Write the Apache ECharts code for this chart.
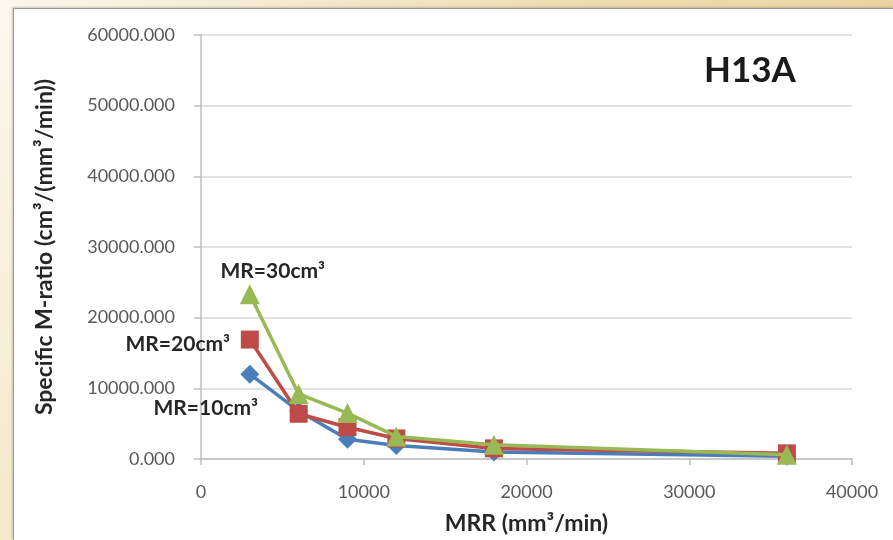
<!DOCTYPE html>
<html>
<head>
<meta charset="utf-8">
<script src="https://cdn.jsdelivr.net/npm/echarts@6/dist/echarts.min.js"></script>
<style>
  html, body { margin: 0; padding: 0; width: 893px; height: 540px; overflow: hidden; }
  body { background: linear-gradient(120deg, #fcf8ee 0%, #efdeb4 45%, #e5cb90 100%); }
  #frame {
    position: absolute; left: 13px; top: 8px; right: 0; bottom: 0;
    background: #ffffff;
    border-left: 1px solid #9a9a9a; border-top: 1px solid #9a9a9a;
    box-shadow: -1px -1px 2px rgba(120,110,90,0.35);
  }
  #chart { position: absolute; left: 0; top: 0; width: 893px; height: 540px; }
</style>
</head>
<body>
<div id="frame"></div>
<div id="chart"></div>
<script>
// MRR values (mm³/min) shared by every series
const mrr = [3000, 6000, 9000, 12000, 18000, 36000];

// Specific M-ratio for each removed material volume
const mr10 = [12000, 6800, 2800, 1900, 1000, 400];
const mr20 = [16900, 6400, 4500, 2900, 1500, 800];
const mr30 = [23300, 9200, 6500, 3200, 2000, 600];

const seriesNames = ['MR=10cm³', 'MR=20cm³', 'MR=30cm³'];
const yTicks = [0, 10000, 20000, 30000, 40000, 50000, 60000];
const xTicks = [0, 10000, 20000, 30000, 40000];

const font = 'Lato, "Open Sans", sans-serif';

function pairs(values) {
  return mrr.map((x, i) => [x, values[i]]);
}

// Name label attached to the first point of a series
function firstPointLabel(values, name, offset) {
  const data = pairs(values).map(p => ({ value: p }));
  data[0].label = {
    show: true, formatter: name, offset: offset, position: 'inside',
    color: '#262626', fontWeight: 'bold', fontSize: 21, fontFamily: font
  };
  return data;
}

const chart = echarts.init(document.getElementById('chart'), null, { renderer: 'canvas' });

chart.setOption({
  backgroundColor: 'transparent',
  animation: false,
  grid: { left: 201, right: 41, top: 35, bottom: 80, containLabel: false },
  xAxis: {
    type: 'value', min: xTicks[0], max: xTicks[xTicks.length - 1], interval: 10000,
    name: 'MRR (mm³/min)', nameLocation: 'middle', nameGap: 53,
    nameTextStyle: { fontFamily: font, fontWeight: 'bold', fontSize: 23, color: '#262626' },
    axisLine: { show: true, lineStyle: { color: '#bfbfbf', width: 1.5 } },
    axisTick: { show: true, length: 6, lineStyle: { color: '#bfbfbf', width: 1.5 } },
    axisLabel: { fontFamily: font, fontSize: 18, color: '#595959', margin: 24, formatter: v => String(v) },
    splitLine: { show: false }
  },
  yAxis: {
    type: 'value', min: yTicks[0], max: yTicks[yTicks.length - 1], interval: 10000,
    name: 'Specific M-ratio (cm³/(mm³/min))', nameLocation: 'middle', nameGap: 145,
    nameTextStyle: { fontFamily: font, fontWeight: 'bold', fontSize: 23, color: '#262626' },
    axisLine: { show: true, lineStyle: { color: '#bfbfbf', width: 1.5 } },
    axisTick: { show: true, length: 7, lineStyle: { color: '#bfbfbf', width: 1.5 } },
    axisLabel: {
      fontFamily: font, fontSize: 18, color: '#595959', margin: 26,
      formatter: v => v.toFixed(3)
    },
    splitLine: { show: true, lineStyle: { color: '#d9d9d9', width: 1.5 } }
  },
  graphic: [{
    type: 'text', left: 704, top: 53,
    style: { text: 'H13A', fontFamily: font, fontWeight: 'bold', fontSize: 35, fill: '#1a1a1a' }
  }],
  series: [
    {
      name: seriesNames[0], type: 'line', data: firstPointLabel(mr10, seriesNames[0], [-44, 34]),
      symbol: 'diamond', symbolSize: 19,
      lineStyle: { color: '#4a7ebb', width: 3.5 }, itemStyle: { color: '#4a7ebb' }, z: 2
    },
    {
      name: seriesNames[1], type: 'line', data: firstPointLabel(mr20, seriesNames[1], [-72, 5]),
      symbol: 'rect', symbolSize: 18,
      lineStyle: { color: '#be4b48', width: 3.5 }, itemStyle: { color: '#be4b48' }, z: 3
    },
    {
      name: seriesNames[2], type: 'line', data: firstPointLabel(mr30, seriesNames[2], [23, -23]),
      symbol: 'triangle', symbolSize: 20,
      lineStyle: { color: '#98b954', width: 3.5 }, itemStyle: { color: '#98b954' }, z: 4
    }
  ]
});
</script>
</body>
</html>
